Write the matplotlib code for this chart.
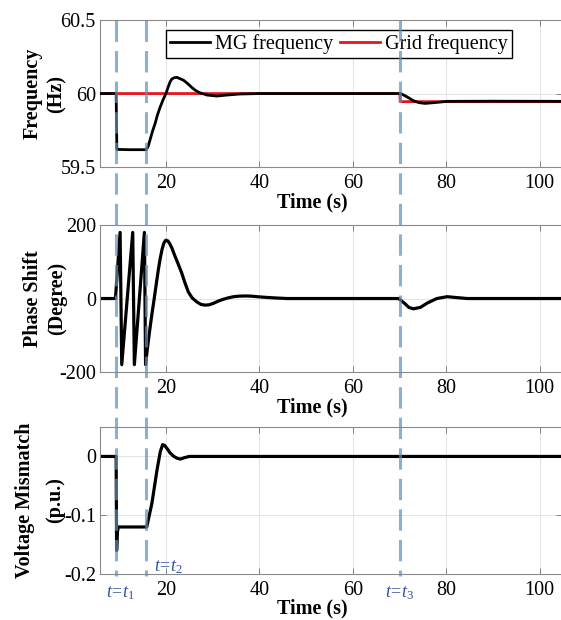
import numpy as np
import matplotlib
matplotlib.use('Agg')
import matplotlib.pyplot as plt
from matplotlib.lines import Line2D
from matplotlib.transforms import blended_transform_factory

plt.rcParams['font.family'] = ['Liberation Serif', 'DejaVu Serif']
plt.rcParams['mathtext.fontset'] = 'custom'
plt.rcParams['mathtext.rm'] = 'Liberation Serif'
plt.rcParams['mathtext.it'] = 'Liberation Serif:italic'

# event times (s)
t_events = [9.4, 15.8, 70.1]
event_labels = [r'$t\!=\!t_1$', r'$t\!=\!t_2$', r'$t\!=\!t_3$']

# frequency panel
t_mg = [5.9, 9.35, 9.5, 12, 15.8, 16.2, 16.6, 17.1, 17.7, 18.2, 18.8, 19.4, 20.0,
        20.5, 20.9, 21.3, 21.8, 22.4, 23.1, 23.8, 24.7, 25.6, 26.4, 27.3, 28.8,
        30.9, 33.1, 35.9, 40, 70.1, 70.6, 71.6, 73.0, 74.2, 75.5, 77.0, 78.0,
        80.2, 90, 104.8]
f_mg = [60.0, 60.0, 59.62, 59.618, 59.618, 59.64, 59.684, 59.74, 59.797, 59.855,
        59.91, 59.958, 60.0, 60.045, 60.08, 60.1, 60.108, 60.11, 60.10, 60.09,
        60.067, 60.04, 60.02, 60.005, 59.99, 59.983, 59.99, 59.997, 60.0, 60.0,
        59.995, 59.978, 59.951, 59.938, 59.933, 59.937, 59.94, 59.947, 59.948,
        59.947]
t_grid = [5.9, 70.1, 70.15, 104.8]
f_grid = [60.0, 60.0, 59.945, 59.945]

# phase panel
t_ph = [5.9, 9.2, 10.2, 10.55, 12.9, 13.25, 15.4, 15.65, 16.0, 16.5, 17.0, 17.5,
        18.0, 18.4, 18.8, 19.2, 19.6, 20.0, 20.4, 20.8, 21.3, 21.8, 22.6, 23.4,
        24.1, 24.8, 25.6, 26.6, 27.5, 28.4, 29.3, 30.2, 31.2, 32.3, 33.4, 34.5,
        35.7, 37.0, 38.3, 39.5, 41.6, 43.5, 46, 69.8, 71.0, 72.0, 73.0, 74.5,
        76.0, 78.0, 80.2, 84.5, 104.8]
ph = [0, 0, 180, -180, 180, -180, 180, -180, -140, -90, -43, 0, 45, 80, 110, 135,
      152, 159, 157, 150, 137, 120, 95, 69, 42, 18, 2, -9, -16, -18, -17, -13, -7,
      -2, 2, 5, 6.5, 7, 6.5, 5, 3, 1.5, 0, 0, -12, -24, -28, -24, -12, 0, 5, 0, 0]

# voltage mismatch panel
t_v = [5.9, 9.35, 9.45, 9.6, 9.8, 15.9, 17.0, 18.1, 18.8, 19.3, 19.7, 20.3, 20.9,
       21.7, 22.4, 23.1, 24.0, 25.0, 104.8]
v_mm = [0, 0, -0.16, -0.13, -0.12, -0.12, -0.08, -0.023, 0.008, 0.02, 0.019,
        0.013, 0.006, 0.0, -0.003, -0.0045, -0.002, 0, 0]

xticks = [20, 40, 60, 80, 100]
yticks = [[59.5, 60, 60.5], [-200, 0, 200], [-0.2, -0.1, 0]]
yticklabels = [['59.5', '60', '60.5'], ['-200', '0', '200'], ['-0.2', '-0.1', '0']]
ylims = [(59.5, 60.5), (-200, 200), (-0.2, 0.05)]
ylabels = ['Frequency\n(Hz)', 'Phase Shift\n(Degree)', 'Voltage Mismatch\n(p.u.)']

fig = plt.figure(figsize=(5.61, 6.2), dpi=100)
left, width, height = 0.1783, 0.8235, 0.237
bottoms = [0.7306, 0.40, 0.0742]
axes = [fig.add_axes([left, b, width, height]) for b in bottoms]

fs = 14.5
for i, ax in enumerate(axes):
    ax.set_xlim(5.9, 104.8)
    ax.set_ylim(*ylims[i])
    ax.set_xticks(xticks)
    ax.set_xticklabels([str(x) for x in xticks])
    ax.set_yticks(yticks[i])
    ax.set_yticklabels(yticklabels[i])
    ax.grid(True, color='#e3e3e3', lw=0.7)
    ax.set_axisbelow(True)
    ax.tick_params(direction='in', top=True, right=True, length=4, width=0.7,
                   color='#808080', labelsize=fs, pad=5)
    ax.tick_params(axis='y', pad=3)
    for s in ax.spines.values():
        s.set_color('#8a8a8a')
        s.set_linewidth(0.8)
    ax.set_xlabel('Time (s)', fontsize=fs, fontweight='bold')
    ax.xaxis.set_label_coords(0.46, -0.175)
    ax.set_ylabel(ylabels[i], fontsize=fs, fontweight='bold', va='center',
                  linespacing=1.25 if i < 2 else 1.7)

axes[0].yaxis.set_label_coords(-0.119, 0.5)
axes[1].yaxis.set_label_coords(-0.119, 0.5)
axes[2].yaxis.set_label_coords(-0.13, 0.5)
axes[2].xaxis.set_label_coords(0.46, -0.165)

ax1, ax2, ax3 = axes
ax1.plot(t_grid, f_grid, color='#e8141c', lw=2.0, label='Grid frequency', zorder=2)
ax1.plot(t_mg, f_mg, color='black', lw=2.0, label='MG frequency', zorder=3)
h, l = ax1.get_legend_handles_labels()
leg = ax1.legend(h[::-1], l[::-1], loc='upper center', bbox_to_anchor=(0.517, 0.935),
                 ncol=2, fontsize=fs, frameon=True, fancybox=False, framealpha=1,
                 edgecolor='black', handlelength=2.0, handletextpad=0.25,
                 columnspacing=0.35, borderpad=0.2, borderaxespad=0)
leg.get_frame().set_linewidth(1.0)

ax2.plot(t_ph, ph, color='black', lw=2.3)
ax3.plot(t_v, v_mm, color='black', lw=2.3)

# event markers spanning all panels
trans = blended_transform_factory(ax3.transData, fig.transFigure)
for te in t_events:
    fig.add_artist(Line2D([te, te], [1 - 20 / 620, 1 - 576 / 620], transform=trans,
                          color='#5f8fba', lw=2.2, dashes=(7, 3), alpha=0.7,
                          zorder=5))

tl = blended_transform_factory(ax3.transData, ax3.transAxes)
label_pos = [(10.2, -0.13), (20.5, 0.048), (70.0, -0.13)]
for (x, y), s in zip(label_pos, event_labels):
    ax3.text(x, y, s, transform=tl, color='#3552a0', fontsize=13,
             ha='center', va='center', clip_on=False)

fig.savefig('out.png', dpi=100)
